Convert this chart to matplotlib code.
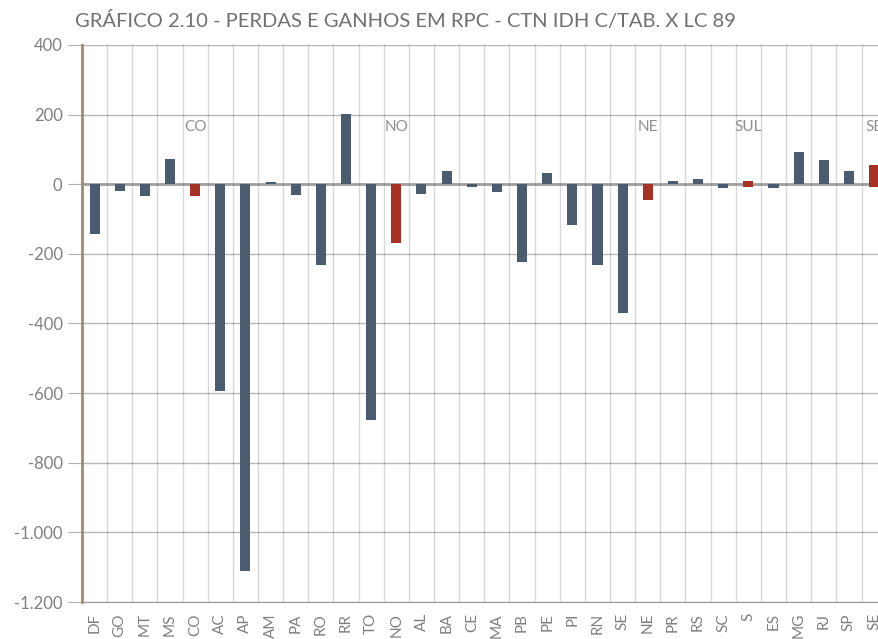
import matplotlib
matplotlib.use("Agg")
import matplotlib.pyplot as plt
from matplotlib.ticker import FuncFormatter
import numpy as np

# categorias (estados + totais regionais)
cats = ["DF", "GO", "MT", "MS", "CO", "AC", "AP", "AM", "PA", "RO", "RR", "TO", "NO",
        "AL", "BA", "CE", "MA", "PB", "PE", "PI", "RN", "SE", "NE",
        "PR", "RS", "SC", "S", "ES", "MG", "RJ", "SP", "SE"]
# valores dos estados (None = total regional)
estados = [-142, -20, -35, 72, None, -595, -1112, 7, -30, -233, 203, -676, None,
           -27, 38, -8, -22, -224, 32, -118, -233, -371, None,
           10, 14, -10, None, -10, 93, 69, 38, None]
# totais regionais (parte positiva / parte negativa)
regiao_pos = [0, 0, 0, 0, 0, 0, 0, 0, 0, 0, 0, 0, 0,
              0, 0, 0, 0, 0, 0, 0, 0, 0, 0,
              0, 0, 0, 10, 0, 0, 0, 0, 55]
regiao_neg = [0, 0, 0, 0, -35, 0, 0, 0, 0, 0, 0, 0, -170,
              0, 0, 0, 0, 0, 0, 0, 0, 0, -45,
              0, 0, 0, -8, 0, 0, 0, 0, -9]
regioes = ["CO", "NO", "NE", "SUL", "SE"]
regioes_pos = [4, 12, 22, 26, 31]
regioes_y = 164

AZUL = "#4b5b70"
VERM = "#a53224"
CINZA = "#808080"

plt.rcParams["font.family"] = ["Lato", "DejaVu Sans"]

fig = plt.figure(figsize=(8.79, 6.39), dpi=100)
ax = fig.add_axes([0.0933, 0.0579, 0.9154, 0.8717])

x = np.arange(len(cats))
w = 0.4
ev = [v if v is not None else 0 for v in estados]
ax.bar(x, ev, w, color=AZUL, zorder=3)
ax.bar(x, regiao_pos, w, color=VERM, zorder=3)
ax.bar(x, regiao_neg, w, color=VERM, zorder=3)

for nome, p in zip(regioes, regioes_pos):
    ax.text(p, regioes_y, nome, ha="center", va="center", color="#909090",
            fontsize=11, zorder=4)

ax.set_xlim(-0.5, len(cats) - 0.5)
ax.set_ylim(-1200, 400)
ax.set_yticks(np.arange(-1200, 401, 200))
ax.yaxis.set_major_formatter(FuncFormatter(lambda v, p: f"{int(v):,}".replace(",", ".")))
ax.set_xticks(x)
ax.set_xticklabels(cats, rotation=90, color=CINZA, fontsize=11)
ax.set_xticks(np.arange(-0.5, len(cats), 1), minor=True)

ax.tick_params(axis="y", length=10, color="#b0b0b0", labelcolor=CINZA, labelsize=12, pad=4)
ax.tick_params(axis="x", which="major", length=0, pad=8)
ax.tick_params(axis="x", which="minor", length=0)

ax.grid(axis="x", which="minor", color="#d8d8d8", lw=1, zorder=0)
ax.grid(axis="y", which="major", color="#b8b8b8", lw=1, zorder=1)
ax.axhline(0, color="#a0a0a0", lw=2, zorder=2)
# pontinhos nas intersecções da grade
gx, gy = np.meshgrid(np.arange(-0.5, len(cats), 1), np.arange(-1000, 401, 200))
ax.scatter(gx.ravel(), gy.ravel(), s=0.8, color="#888888", zorder=2, clip_on=False, lw=0)

for s in ("top", "right"):
    ax.spines[s].set_visible(False)
ax.spines["left"].set_color("#a5896b")
ax.spines["left"].set_linewidth(2)
ax.spines["left"].set_zorder(5)
ax.spines["bottom"].set_color("#999999")

fig.text(75 / 879, 1 - 21 / 639, "GRÁFICO 2.10 - PERDAS E GANHOS EM RPC - CTN IDH C/TAB. X LC 89",
         color="#707070", fontsize=14.5, va="center", ha="left")

fig.savefig("out.png", dpi=100)
